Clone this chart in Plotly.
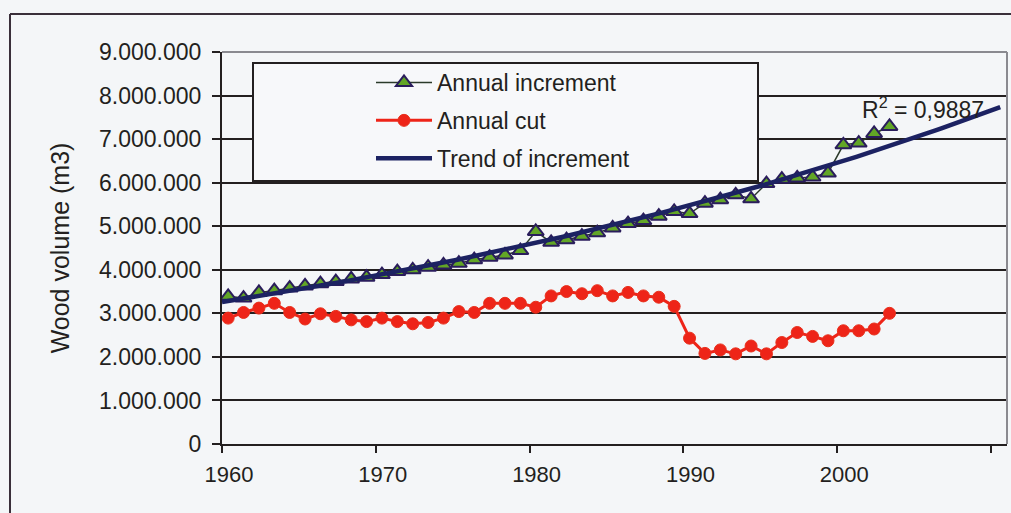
import numpy as np
import plotly.graph_objects as go

# Annual series, 1960-2003 (m3)
years = list(range(1960, 2004))
increment = [
    3.39, 3.35, 3.48, 3.52, 3.58, 3.63, 3.68, 3.73, 3.79, 3.83,
    3.89, 3.96, 4.00, 4.06, 4.11, 4.15, 4.23, 4.29, 4.34, 4.44,
    4.88, 4.63, 4.69, 4.77, 4.85, 4.96, 5.06, 5.13, 5.23, 5.34,
    5.29, 5.53, 5.61, 5.72, 5.63, 5.98, 6.08, 6.11, 6.13, 6.22,
    6.87, 6.91, 7.13, 7.29,
]
annual_cut = [
    2.89, 3.02, 3.12, 3.23, 3.02, 2.87, 2.99, 2.93, 2.85, 2.81,
    2.89, 2.81, 2.76, 2.79, 2.89, 3.04, 3.02, 3.23, 3.23, 3.23,
    3.14, 3.40, 3.50, 3.45, 3.52, 3.40, 3.48, 3.40, 3.37, 3.16,
    2.43, 2.08, 2.16, 2.07, 2.25, 2.07, 2.33, 2.56, 2.47, 2.37,
    2.60, 2.60, 2.64, 3.00,
]
increment = [v * 1e6 for v in increment]
annual_cut = [v * 1e6 for v in annual_cut]

y_ticks = [0, 1e6, 2e6, 3e6, 4e6, 5e6, 6e6, 7e6, 8e6, 9e6]
y_labels = ["0", "1.000.000", "2.000.000", "3.000.000", "4.000.000",
            "5.000.000", "6.000.000", "7.000.000", "8.000.000", "9.000.000"]
x_ticks = [1960, 1970, 1980, 1990, 2000]
x_labels = ["1960", "1970", "1980", "1990", "2000"]
x_extra_tick = [2010]
r2_text = "R<sup>2</sup> = 0,9887"

# yearly values are plotted at mid-year
xs = np.array(years) + 0.4

# exponential trend of the increment, extended to the end of the axis
coef = np.polyfit(xs, np.log(increment), 1)
trend_x = np.linspace(1960, 2010.6, 120)
trend_y = np.exp(np.polyval(coef, trend_x))

W, H = 1011, 513
ML, MR, MT, MB = 222, 4, 52, 69
PW, PH = W - ML - MR, H - MT - MB


def px(x):
    return (x - ML) / PW


def py(y):
    return (H - MB - y) / PH


FONT = "Liberation Sans"
INK = "#231f20"
NAVY = "#1c2262"
GREEN = "#62a626"
RED = "#ee2418"

fig = go.Figure()
fig.add_trace(go.Scatter(
    x=xs, y=increment, name="Annual increment", mode="lines+markers",
    line=dict(color="#2b3a2a", width=1.5),
    marker=dict(symbol="triangle-up", size=14, color=GREEN,
                line=dict(color="#2a1d5c", width=2)),
    legendgroup="a",
))
fig.add_trace(go.Scatter(
    x=xs, y=annual_cut, name="Annual cut", mode="lines+markers",
    line=dict(color=RED, width=3),
    marker=dict(symbol="circle", size=12, color=RED,
                line=dict(color="#e8301c", width=1)),
    legendgroup="b",
))
fig.add_trace(go.Scatter(
    x=trend_x, y=trend_y, name="Trend of increment", mode="lines",
    line=dict(color=NAVY, width=4.5),
    legendgroup="c",
))

fig.add_annotation(
    x=2009.7, y=7.72e6, xref="x", yref="y", text=r2_text, showarrow=False,
    xanchor="right", yanchor="middle", font=dict(family=FONT, size=23, color=INK),
)

shapes = [
    # outer chart frame
    dict(type="line", xref="paper", yref="paper", x0=px(10), x1=px(W + 20),
         y0=py(14), y1=py(14), line=dict(color="#3a2f3a", width=2)),
    dict(type="line", xref="paper", yref="paper", x0=px(10), x1=px(10),
         y0=py(14), y1=py(H + 20), line=dict(color="#3a2f3a", width=2)),
    # plot area border (top and right)
    dict(type="line", xref="paper", yref="paper", x0=0, x1=1, y0=1, y1=1,
         line=dict(color="#8a8a90", width=2), layer="above"),
    dict(type="line", xref="paper", yref="paper", x0=1, x1=1, y0=0, y1=1,
         line=dict(color="#8a8a90", width=2), layer="above"),
    # legend box
    dict(type="rect", xref="paper", yref="paper", x0=px(253), x1=px(758),
         y0=py(181), y1=py(63), fillcolor="#f7f8fa",
         line=dict(color=INK, width=2), layer="above"),
]

fig.update_layout(
    width=W, height=H,
    margin=dict(l=ML, r=MR, t=MT, b=MB),
    paper_bgcolor="#f4f6f8", plot_bgcolor="#f4f6f8",
    font=dict(family=FONT, size=22, color=INK),
    shapes=shapes,
    showlegend=True,
    legend=dict(
        x=px(371), y=py(61), xanchor="left", yanchor="top",
        bgcolor="rgba(0,0,0,0)", borderwidth=0,
        font=dict(family=FONT, size=23, color=INK),
        traceorder="grouped", tracegroupgap=5, itemwidth=56,
    ),
    xaxis=dict(
        range=[1960, 2011.04], tickvals=x_ticks, ticktext=x_labels,
        showgrid=False, zeroline=False, showline=True, linecolor=INK,
        linewidth=2, ticks="outside", ticklen=7, tickwidth=2, tickcolor=INK,
        ticklabelstandoff=3, ticklabelshift=7,
        tickfont=dict(family=FONT, size=22, color=INK),
        minor=dict(tickvals=x_extra_tick, ticks="outside", ticklen=7,
                   tickwidth=2, tickcolor=INK, showgrid=False),
    ),
    yaxis=dict(
        range=[0, 9e6], tickvals=y_ticks, ticktext=y_labels,
        showgrid=True, gridcolor=INK, gridwidth=2, zeroline=False,
        showline=True, linecolor=INK, linewidth=2, ticks="outside",
        ticklen=8, tickwidth=2, tickcolor=INK, ticklabelstandoff=6,
        tickfont=dict(family=FONT, size=23, color=INK),
        title=dict(text="Wood volume (m3)", standoff=22,
                   font=dict(family=FONT, size=25, color=INK)),
    ),
)

fig.write_html("out.html")
